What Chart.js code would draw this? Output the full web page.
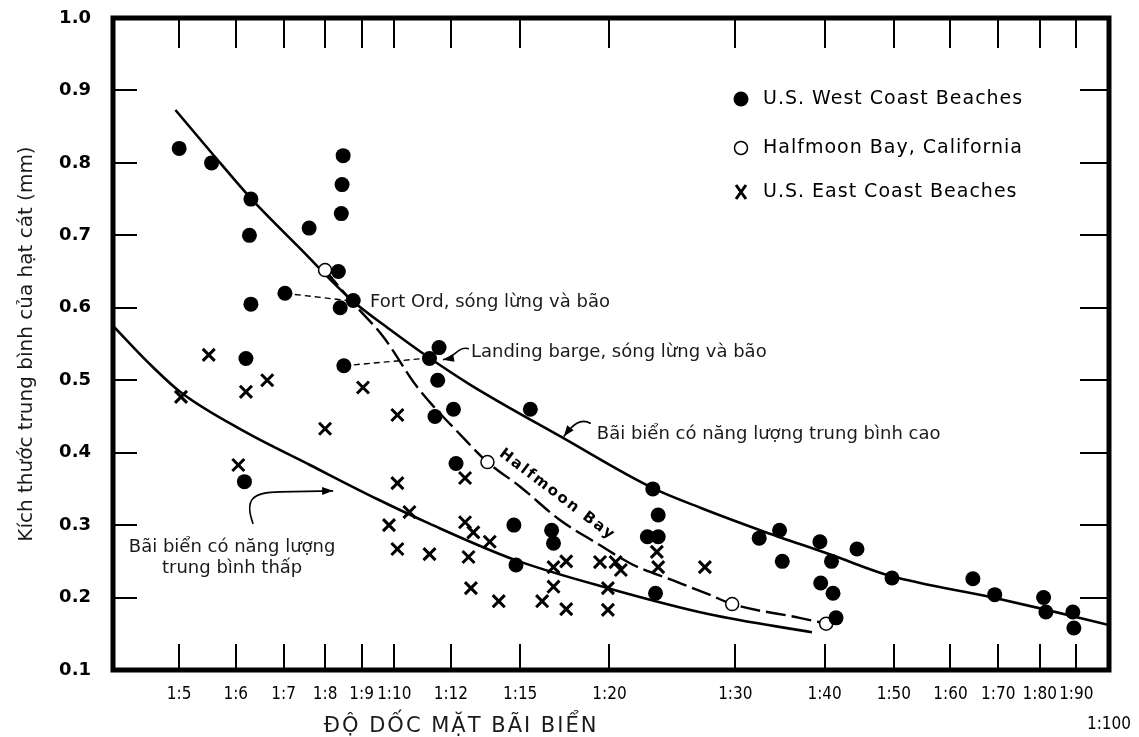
<!DOCTYPE html>
<html>
<head>
<meta charset="utf-8">
<script src="https://cdn.jsdelivr.net/npm/chart.js@4.4.1/dist/chart.umd.min.js"></script>
<style>
  html, body { margin: 0; padding: 0; background: #fff; }
  #wrap { width: 1139px; height: 737px; }
</style>
</head>
<body>
<div id="wrap"><canvas id="chart" width="1139" height="737"></canvas></div>
<script>
// Slope is 1:N, N on a log axis; y is median grain size in mm
const xTicks = [5, 6, 7, 8, 9, 10, 12, 15, 20, 30, 40, 50, 60, 70, 80, 90, 100];
const yTicks = [0.1, 0.2, 0.3, 0.4, 0.5, 0.6, 0.7, 0.8, 0.9, 1.0];

const westX = [5.0, 5.55, 6.3, 6.27, 7.6, 8.48, 8.45, 8.43, 8.35, 7.03, 6.3, 8.4, 8.76, 6.2, 8.5, 6.17,
  11.2, 11.55, 11.5, 12.1, 11.4, 15.5, 12.2, 23.0, 14.7, 16.6, 16.7, 14.8, 23.4, 22.6, 23.4, 23.2,
  32.4, 34.6, 34.9, 39.4, 40.9, 44.4, 39.5, 41.1, 41.5, 49.7, 64.5, 69.2, 81.0, 81.6, 89.0, 89.3];
const westY = [0.82, 0.80, 0.75, 0.70, 0.71, 0.81, 0.77, 0.73, 0.65, 0.62, 0.605, 0.60, 0.61, 0.53, 0.52, 0.36,
  0.53, 0.545, 0.50, 0.46, 0.45, 0.46, 0.385, 0.35, 0.30, 0.293, 0.275, 0.245, 0.314, 0.284, 0.284, 0.206,
  0.282, 0.293, 0.25, 0.277, 0.25, 0.267, 0.22, 0.206, 0.172, 0.227, 0.226, 0.204, 0.20, 0.18, 0.18, 0.158];

const halfX = [8.0, 13.5, 29.7, 40.2];
const halfY = [0.652, 0.387, 0.191, 0.164];

const eastX = [5.03, 5.5, 6.2, 6.64, 8.0, 9.04, 10.1, 6.05, 10.1, 12.56, 9.83, 10.5, 10.1, 11.2, 12.56, 12.9,
  13.6, 12.7, 12.8, 14.0, 16.1, 16.7, 17.4, 16.7, 17.4, 19.4, 20.4, 20.75, 19.9, 19.9, 23.3, 23.4, 27.2];
const eastY = [0.477, 0.535, 0.484, 0.50, 0.433, 0.49, 0.452, 0.383, 0.358, 0.365, 0.30, 0.318, 0.267, 0.26, 0.304, 0.29,
  0.277, 0.256, 0.213, 0.195, 0.195, 0.242, 0.25, 0.215, 0.184, 0.249, 0.249, 0.238, 0.213, 0.183, 0.263, 0.242, 0.242];

// hand drawn trend curves
const highX = [4.94, 5.56, 6.30, 7.38, 8.73, 9.86, 11.15, 12.76, 17.1, 23.0, 26.8, 32.5, 41.1, 49.4, 68.8, 81.8, 100];
const highY = [0.873, 0.813, 0.751, 0.682, 0.610, 0.570, 0.532, 0.494, 0.422, 0.351, 0.324, 0.293, 0.258, 0.230, 0.200, 0.183, 0.162];
const lowX = [4.05, 4.53, 5.03, 6.15, 7.62, 9.46, 11.2, 14.75, 19.9, 27.6, 38.4];
const lowY = [0.574, 0.524, 0.483, 0.430, 0.383, 0.336, 0.302, 0.252, 0.213, 0.177, 0.152];
const dashX = [8.0, 8.73, 9.65, 10.76, 12.56, 13.5, 15.0, 17.05, 19.2, 21.6, 24.5, 27.6, 29.7, 36.9, 40.2];
const dashY = [0.652, 0.608, 0.560, 0.491, 0.418, 0.387, 0.353, 0.307, 0.275, 0.245, 0.224, 0.204, 0.191, 0.172, 0.164];

// leader lines to the storm samples
const fortX = [7.03, 8.6];
const fortY = [0.62, 0.61];
const bargeX = [8.5, 11.0];
const bargeY = [0.52, 0.53];

const FONT = "'DejaVu Sans', sans-serif";
const TICKFONT = "'DejaVu Sans Condensed', 'DejaVu Sans', sans-serif";
const xTitle = 'ĐỘ DỐC MẶT BÃI BIỂN';
const yTitle = 'Kích thước trung bình của hạt cát (mm)';

const legendItems = [
  { label: 'U.S. West Coast Beaches', style: 'dot' },
  { label: 'Halfmoon Bay, California', style: 'open' },
  { label: 'U.S. East Coast Beaches', style: 'cross' }
];

// text notes placed in data coordinates; arrows are pixel offsets from the text anchor
const notes = [
  { text: 'Fort Ord, sóng lừng và bão', x: 9.25, y: 0.608, align: 'left' },
  { text: 'Landing barge, sóng lừng và bão', x: 12.8, y: 0.538, align: 'left',
    arrow: [[-2, -4], [-13, -7], [-16, 5], [-28, 7]] },
  { text: 'Bãi biển có năng lượng trung bình cao', x: 19.2, y: 0.425, align: 'left',
    arrow: [[-6, -11], [-16, -17], [-24, -10], [-33, 2]] },
  { text: 'Bãi biển có năng lượng', x: 5.93, y: 0.270, align: 'center',
    arrow: [[21, -23], [12, -47], [20, -55], [48, -55], [101, -56]] },
  { text: 'trung bình thấp', x: 5.93, y: 0.241, align: 'center' }
];
const curveLabel = { text: 'Halfmoon Bay', x: 16.9, y: 0.342, angle: 37 };

const pts = (xs, ys) => xs.map((x, i) => ({ x, y: ys[i] }));

function arrowHead(ctx, fx, fy, tx, ty) {
  const a = Math.atan2(ty - fy, tx - fx);
  ctx.beginPath();
  ctx.moveTo(tx, ty);
  ctx.lineTo(tx - 11 * Math.cos(a) + 4 * Math.sin(a), ty - 11 * Math.sin(a) - 4 * Math.cos(a));
  ctx.lineTo(tx - 11 * Math.cos(a) - 4 * Math.sin(a), ty - 11 * Math.sin(a) + 4 * Math.cos(a));
  ctx.closePath();
  ctx.fill();
}

const decor = {
  id: 'decor',
  afterDatasetsDraw(chart) {
    const { ctx, chartArea: a, scales: { x, y } } = chart;
    ctx.save();
    ctx.strokeStyle = '#000';
    ctx.fillStyle = '#000';

    // inner tick marks on all four sides
    ctx.lineWidth = 2;
    ctx.beginPath();
    xTicks.forEach(v => {
      if (v >= 100) return;
      const px = Math.round(x.getPixelForValue(v));
      ctx.moveTo(px, a.top); ctx.lineTo(px, a.top + 30);
      ctx.moveTo(px, a.bottom); ctx.lineTo(px, a.bottom - 26);
    });
    yTicks.forEach(v => {
      if (v <= 0.1 || v >= 1.0) return;
      const py = Math.round(y.getPixelForValue(v));
      ctx.moveTo(a.left, py); ctx.lineTo(a.left + 24, py);
      ctx.moveTo(a.right, py); ctx.lineTo(a.right - 29, py);
    });
    ctx.stroke();

    ctx.lineWidth = 5;
    ctx.strokeRect(a.left, a.top, a.right - a.left, a.bottom - a.top);

    // notes and arrows
    ctx.font = '18px ' + FONT;
    ctx.textBaseline = 'middle';
    ctx.lineWidth = 1.6;
    notes.forEach(n => {
      const px = x.getPixelForValue(n.x), py = y.getPixelForValue(n.y);
      ctx.fillStyle = '#1a1a1a';
      ctx.textAlign = n.align;
      ctx.fillText(n.text, px, py);
      if (n.arrow) {
        const p = n.arrow.map(([dx, dy]) => [px + dx, py + dy]);
        ctx.beginPath();
        ctx.moveTo(p[0][0], p[0][1]);
        ctx.bezierCurveTo(p[1][0], p[1][1], p[2][0], p[2][1], p[3][0], p[3][1]);
        if (p[4]) ctx.lineTo(p[4][0], p[4][1]);
        ctx.stroke();
        const last = p[p.length - 1], prev = p[p.length - 2];
        ctx.fillStyle = '#000';
        arrowHead(ctx, prev[0], prev[1], last[0], last[1]);
      }
    });

    // label along the Halfmoon Bay curve
    ctx.save();
    ctx.translate(x.getPixelForValue(curveLabel.x), y.getPixelForValue(curveLabel.y));
    ctx.rotate(curveLabel.angle * Math.PI / 180);
    ctx.font = 'bold 15px ' + FONT;
    ctx.letterSpacing = '2px';
    ctx.textAlign = 'center';
    ctx.fillStyle = '#000';
    ctx.fillText(curveLabel.text, 0, 0);
    ctx.restore();

    // legend box inside the plot
    const lx = a.right - 368;
    const rows = [a.top + 81, a.top + 130, a.top + 174];
    ctx.font = '19px ' + FONT;
    ctx.letterSpacing = '1px';
    ctx.textAlign = 'left';
    legendItems.forEach((it, i) => {
      const ly = rows[i];
      ctx.fillStyle = '#000';
      ctx.strokeStyle = '#000';
      if (it.style === 'dot') {
        ctx.beginPath(); ctx.arc(lx, ly, 7.5, 0, Math.PI * 2); ctx.fill();
      } else if (it.style === 'open') {
        ctx.lineWidth = 1.5;
        ctx.beginPath(); ctx.arc(lx, ly, 6.5, 0, Math.PI * 2); ctx.stroke();
      } else {
        ctx.lineWidth = 3;
        ctx.beginPath();
        ctx.moveTo(lx - 5, ly - 7); ctx.lineTo(lx + 5, ly + 7);
        ctx.moveTo(lx + 5, ly - 7); ctx.lineTo(lx - 5, ly + 7);
        ctx.stroke();
      }
      ctx.fillText(it.label, lx + 22, ly);
    });

    // x axis title, set left of centre as in the original
    ctx.font = '21px ' + FONT;
    ctx.letterSpacing = '2px';
    ctx.textAlign = 'center';
    ctx.textBaseline = 'alphabetic';
    ctx.fillStyle = '#1a1a1a';
    ctx.fillText(xTitle, x.getPixelForValue(12.4), a.bottom + 62);
    ctx.letterSpacing = '0px';
    ctx.restore();
  }
};

new Chart(document.getElementById('chart'), {
  type: 'scatter',
  data: {
    datasets: [
      { data: pts(westX, westY), pointStyle: 'circle', pointRadius: 7.5, backgroundColor: '#000', borderColor: '#000', borderWidth: 0, order: 0 },
      { data: pts(halfX, halfY), pointStyle: 'circle', pointRadius: 6.5, backgroundColor: '#fff', borderColor: '#000', borderWidth: 1.5, order: 0 },
      { data: pts(eastX, eastY), pointStyle: 'crossRot', pointRadius: 8.5, borderColor: '#000', borderWidth: 3, order: 0 },
      { data: pts(highX, highY), showLine: true, pointRadius: 0, borderColor: '#000', borderWidth: 2.6, cubicInterpolationMode: 'monotone', order: 2 },
      { data: pts(lowX, lowY), showLine: true, pointRadius: 0, borderColor: '#000', borderWidth: 2.6, cubicInterpolationMode: 'monotone', order: 2 },
      { data: pts(dashX, dashY), showLine: true, pointRadius: 0, borderColor: '#000', borderWidth: 2.4, borderDash: [20, 6], cubicInterpolationMode: 'monotone', order: 2 },
      { data: pts(fortX, fortY), showLine: true, pointRadius: 0, borderColor: '#000', borderWidth: 1.4, borderDash: [6, 4], order: 2 },
      { data: pts(bargeX, bargeY), showLine: true, pointRadius: 0, borderColor: '#000', borderWidth: 1.4, borderDash: [6, 4], order: 2 }
    ]
  },
  options: {
    responsive: false,
    animation: false,
    layout: { padding: { top: 18, right: 30, left: 0, bottom: 0 } },
    plugins: { legend: { display: false }, tooltip: { enabled: false } },
    scales: {
      x: {
        type: 'logarithmic',
        min: 4.04,
        max: 100,
        afterBuildTicks: s => { s.ticks = xTicks.map(v => ({ value: v })); },
        afterFit: s => { s.height = 67; s.paddingLeft = 0; s.paddingRight = 0; },
        grid: { display: false, drawTicks: false },
        border: { display: false },
        ticks: {
          autoSkip: false,
          maxRotation: 0,
          padding: 9,
          color: '#000',
          font: { family: TICKFONT, size: 17, lineHeight: 1.8 },
          callback: v => v === 100 ? ['', '1:100'] : '1:' + v
        }
      },
      y: {
        min: 0.1,
        max: 1.0,
        afterBuildTicks: s => { s.ticks = yTicks.map(v => ({ value: v })); },
        afterFit: s => { s.width = 113; s.paddingTop = 0; s.paddingBottom = 0; },
        grid: { display: false, drawTicks: false },
        border: { display: false },
        ticks: {
          padding: 22,
          color: '#000',
          font: { family: FONT, size: 18, weight: 'bold' },
          callback: v => Number(v).toFixed(1)
        },
        title: {
          display: true,
          text: yTitle,
          color: '#1a1a1a',
          font: { family: FONT, size: 20 },
          padding: { top: 15, bottom: 0 }
        }
      }
    }
  },
  plugins: [decor]
});
</script>
</body>
</html>
